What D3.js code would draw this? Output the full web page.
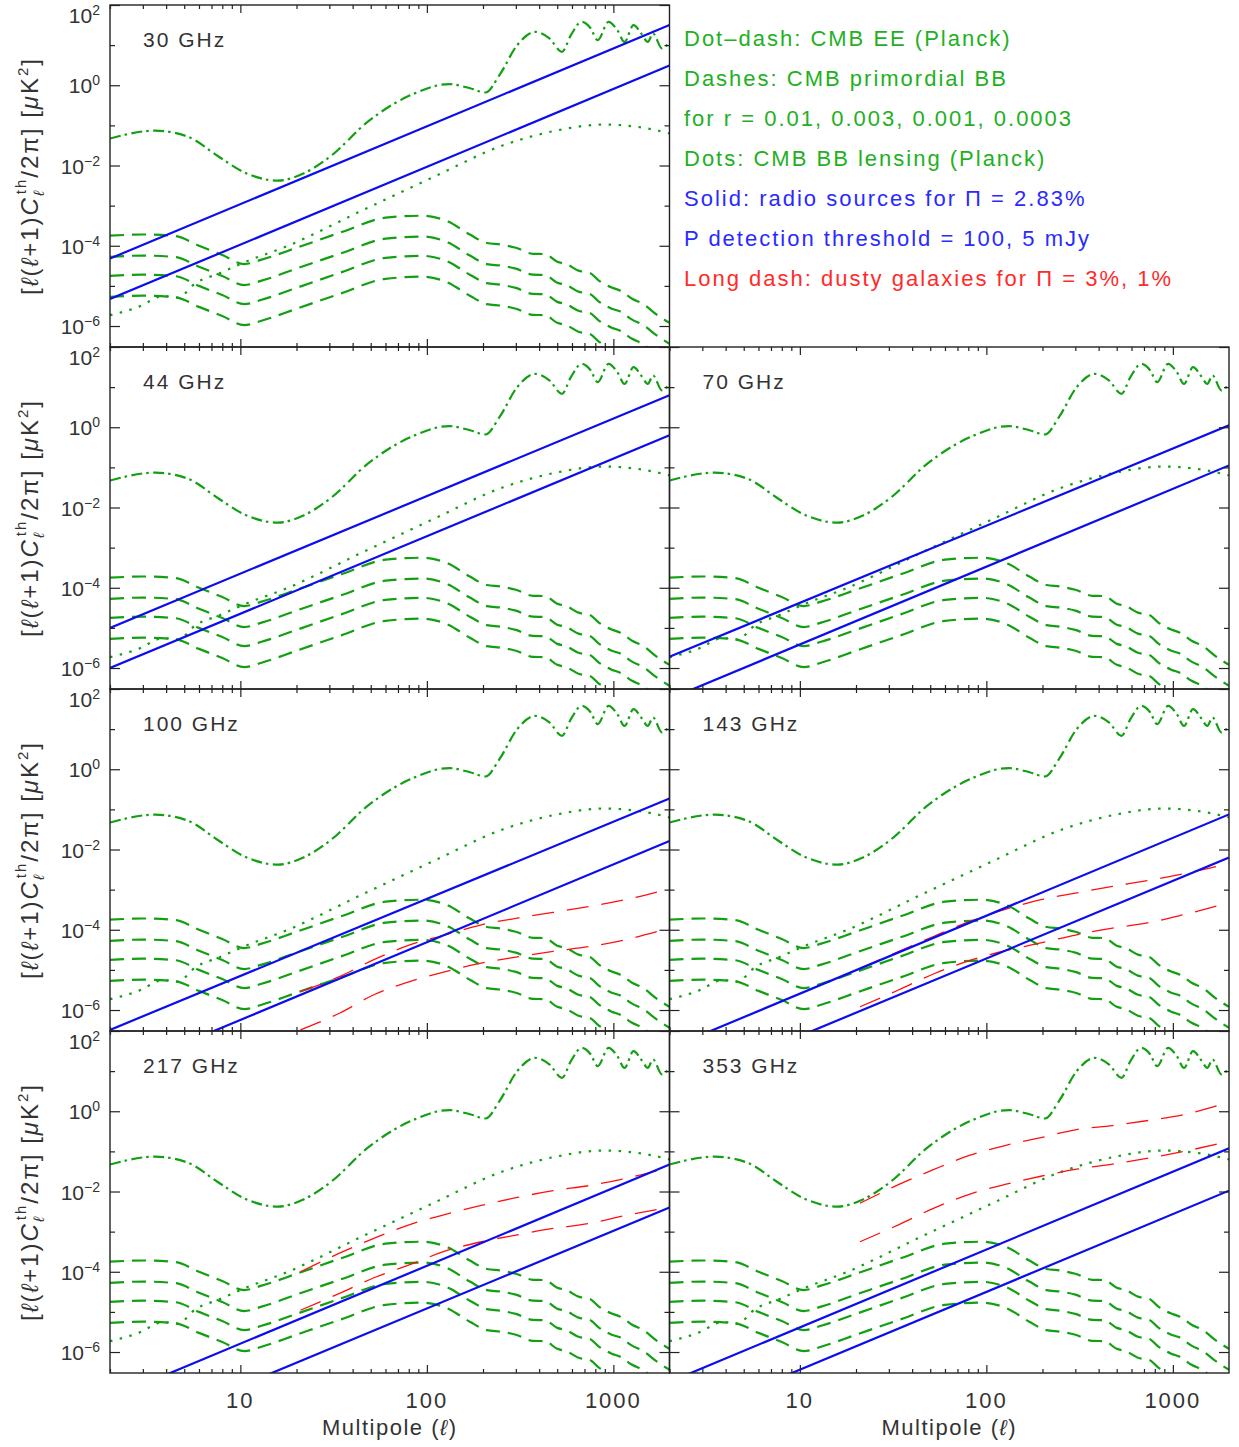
<!DOCTYPE html>
<html>
<head>
<meta charset="utf-8">
<script src="https://cdn.jsdelivr.net/npm/d3@7"></script>
<style>
body { margin: 0; background: #fff; }
text { font-family: "Liberation Sans", Arial, sans-serif; }
</style>
</head>
<body>
<div id="chart"></div>
<script>
// ---- data ----

// CMB EE (dot-dash)
const eeEll = [2, 3.5, 5.3, 7.5, 10.2, 15.9, 21.6, 30.8, 47.9, 81.3, 132, 172, 206, 245, 305, 380, 454, 530, 592, 676, 755, 824, 942, 1050, 1148, 1282, 1429, 1528, 1633, 1820, 2000];
const eeVal = [0.047, 0.074, 0.051, 0.0178, 0.0072, 0.0042, 0.0062, 0.0178, 0.12, 0.56, 1.07, 0.83, 0.66, 1.78, 10, 21.4, 14.8, 6.8, 17.8, 38, 26.3, 13.3, 38, 23.7, 12, 31.6, 17.8, 12, 19.5, 8.3, 12];

// CMB BB lensing (dots)
const lensEll = [2, 2.8, 3.9, 4.6, 5.8, 7.8, 10.4, 18, 44, 106, 257, 500, 880, 1500, 2000];
const lensVal = [1.86e-6, 2.9e-6, 5.6e-6, 5.1e-6, 1.2e-5, 2.1e-5, 3.8e-5, 1.0e-4, 7.2e-4, 4.9e-3, 3.2e-2, 7.5e-2, 0.105, 0.085, 0.063];

// CMB primordial BB (dashes) for r = 0.01, 0.003, 0.001, 0.0003
const bbEll = [2, 3, 4.5, 6, 8, 10.5, 13, 20, 35, 60, 95, 130, 170, 210, 250, 300, 370, 430, 500, 560, 650, 750, 830, 980, 1090, 1260, 1450, 1700, 2000];
const bbR0100 = [1.78e-4, 1.91e-4, 1.74e-4, 1.0e-4, 5.9e-5, 3.5e-5, 4.5e-5, 8.9e-5, 2.2e-4, 5.0e-4, 5.6e-4, 4.0e-4, 1.9e-4, 1.17e-4, 1.07e-4, 8.9e-5, 6.3e-5, 6.2e-5, 4.0e-5, 3.5e-5, 2.4e-5, 2.1e-5, 1.4e-5, 9.1e-6, 7.6e-6, 4.8e-6, 3.5e-6, 1.95e-6, 1.2e-6];
const bbR0030 = [5.3e-5, 5.7e-5, 5.2e-5, 3.0e-5, 1.77e-5, 1.05e-5, 1.35e-5, 2.7e-5, 6.6e-5, 1.5e-4, 1.7e-4, 1.2e-4, 5.7e-5, 3.5e-5, 3.2e-5, 2.7e-5, 1.9e-5, 1.86e-5, 1.2e-5, 1.05e-5, 7.2e-6, 6.3e-6, 4.2e-6, 2.7e-6, 2.3e-6, 1.44e-6, 1.05e-6, 5.9e-7, 3.6e-7];
const bbR0010 = [1.78e-5, 1.91e-5, 1.74e-5, 1.0e-5, 5.9e-6, 3.5e-6, 4.5e-6, 8.9e-6, 2.2e-5, 5.0e-5, 5.6e-5, 4.0e-5, 1.9e-5, 1.17e-5, 1.07e-5, 8.9e-6, 6.3e-6, 6.2e-6, 4.0e-6, 3.5e-6, 2.4e-6, 2.1e-6, 1.4e-6, 9.1e-7, 7.6e-7, 4.8e-7, 3.5e-7, 1.95e-7, 1.2e-7];
const bbR0003 = [5.3e-6, 5.7e-6, 5.2e-6, 3.0e-6, 1.77e-6, 1.05e-6, 1.35e-6, 2.7e-6, 6.6e-6, 1.5e-5, 1.7e-5, 1.2e-5, 5.7e-6, 3.5e-6, 3.2e-6, 2.7e-6, 1.9e-6, 1.86e-6, 1.2e-6, 1.05e-6, 7.2e-7, 6.3e-7, 4.2e-7, 2.7e-7, 2.3e-7, 1.44e-7, 1.05e-7, 5.9e-8, 3.6e-8];

// panels in reading order
const freqLabels = ["30 GHz", "44 GHz", "70 GHz", "100 GHz", "143 GHz", "217 GHz", "353 GHz"];

// radio sources (solid), value at l = 2 and l = 2000, thresholds 100 and 5 mJy
const radioEll = [2, 2000];
const radio100 = [[4.8e-5, 31.6], [1.0e-5, 6.3], [1.9e-6, 1.12], [3.2e-7, 0.186], [1.12e-7, 0.075], [7.1e-8, 0.047], [1.8e-7, 0.12]];
const radio5 = [[4.7e-6, 3.1], [1.0e-6, 0.63], [1.7e-7, 0.112], [2.5e-8, 0.0162], [1.0e-8, 0.0063], [6.3e-9, 0.004], [1.6e-8, 0.0105]];

// dusty galaxies (long dash) for Pi = 3% and 1%  (only 100-353 GHz)
const dustEll = [21, 34, 52, 81, 126, 196, 305, 475, 740, 1150, 2000];
const dust3 = [null, null, null,
  [2.9e-6, 6.8e-6, 1.8e-5, 4.2e-5, 7.5e-5, 1.33e-4, 1.95e-4, 2.7e-4, 3.8e-4, 5.6e-4, 1.05e-3],
  [1.1e-5, 2.9e-5, 6.8e-5, 1.6e-4, 3.2e-4, 5.6e-4, 8.3e-4, 1.2e-3, 1.7e-3, 2.5e-3, 4.5e-3],
  [1.0e-4, 2.9e-4, 6.8e-4, 1.5e-3, 2.7e-3, 4.5e-3, 7.1e-3, 1.05e-2, 1.4e-2, 2.1e-2, 4.0e-2],
  [5.1e-3, 1.5e-2, 3.5e-2, 7.9e-2, 0.14, 0.22, 0.35, 0.44, 0.59, 0.83, 1.7]];
const dust1 = [null, null, null,
  [3.2e-7, 8.3e-7, 2.4e-6, 5.1e-6, 9.1e-6, 1.48e-5, 2.1e-5, 2.9e-5, 3.8e-5, 5.6e-5, 1.1e-4],
  [1.2e-6, 3.2e-6, 7.9e-6, 1.7e-5, 3.0e-5, 4.7e-5, 7.5e-5, 1.1e-4, 1.5e-4, 2.4e-4, 4.7e-4],
  [1.1e-5, 2.9e-5, 7.1e-5, 1.5e-4, 3.3e-4, 5.6e-4, 8.3e-4, 1.2e-3, 1.6e-3, 2.5e-3, 4.0e-3],
  [5.6e-4, 1.5e-3, 3.8e-3, 8.5e-3, 1.5e-2, 2.4e-2, 3.6e-2, 4.8e-2, 6.8e-2, 0.1, 0.18]];

// axis ticks
const xMajor = [10, 100, 1000];
const xMinor = [2, 3, 4, 5, 6, 7, 8, 9, 20, 30, 40, 50, 60, 70, 80, 90, 200, 300, 400, 500, 600, 700, 800, 900];
const yLabelExp = [2, 0, -2, -4, -6];
const yOddExp = [1, -1, -3, -5];

const legendLines = [
  {text: "Dot\u2013dash: CMB EE (Planck)", color: "#22b022"},
  {text: "Dashes: CMB primordial BB", color: "#22b022"},
  {text: "for r = 0.01, 0.003, 0.001, 0.0003", color: "#22b022"},
  {text: "Dots: CMB BB lensing (Planck)", color: "#22b022"},
  {text: "Solid: radio sources for \u03A0 = 2.83%", color: "#2a2aff"},
  {text: "P detection threshold = 100, 5 mJy", color: "#2a2aff"},
  {text: "Long dash: dusty galaxies for \u03A0 = 3%, 1%", color: "#ff2a2a"}
];

// ---- layout ----
const width = 1239, height = 1447;
const colX = [110, 669.5], panelW = 559.5;
const rowY = [5, 347, 689, 1031], panelH = 342;
const cells = [[0, 0], [1, 0], [1, 1], [2, 0], [2, 1], [3, 0], [3, 1]]; // [row, col]

const green = "#12a012", blue = "#0c0cf0", red = "#ff1010", ink = "#333";

const svg = d3.select("#chart").append("svg")
  .attr("width", width).attr("height", height);
svg.append("rect").attr("width", width).attr("height", height).attr("fill", "#fff");

const defs = svg.append("defs");

cells.forEach(([row, col], i) => {
  const x0 = colX[col], y0 = rowY[row];
  const x1 = x0 + panelW, y1 = y0 + panelH;

  const x = d3.scaleLog().domain([2, 2000]).range([x0, x1]);
  const y = d3.scaleLog().domain([3e-7, 100]).range([y1, y0]);

  defs.append("clipPath").attr("id", "clip" + i)
    .append("rect").attr("x", x0).attr("y", y0).attr("width", panelW).attr("height", panelH);

  const g = svg.append("g").attr("clip-path", `url(#clip${i})`);

  const smooth = d3.line().x(d => x(d[0])).y(d => y(d[1])).curve(d3.curveMonotoneX);
  const straight = d3.line().x(d => x(d[0])).y(d => y(d[1]));

  // primordial BB
  [bbR0100, bbR0030, bbR0010, bbR0003].forEach(vals => {
    g.append("path").datum(d3.zip(bbEll, vals))
      .attr("d", smooth).attr("fill", "none")
      .attr("stroke", green).attr("stroke-width", 2.2).attr("stroke-dasharray", "14,8");
  });

  // lensing BB
  g.append("path").datum(d3.zip(lensEll, lensVal))
    .attr("d", smooth).attr("fill", "none")
    .attr("stroke", green).attr("stroke-width", 2.2).attr("stroke-dasharray", "2.5,7.5");

  // EE
  g.append("path").datum(d3.zip(eeEll, eeVal))
    .attr("d", smooth).attr("fill", "none")
    .attr("stroke", green).attr("stroke-width", 2.2).attr("stroke-dasharray", "11,4,2.5,4.5");

  // dusty galaxies
  if (dust3[i]) {
    [dust3[i], dust1[i]].forEach(vals => {
      g.append("path").datum(d3.zip(dustEll, vals))
        .attr("d", smooth).attr("fill", "none")
        .attr("stroke", red).attr("stroke-width", 1.3).attr("stroke-dasharray", "22,13");
    });
  }

  // radio sources
  [radio100[i], radio5[i]].forEach(vals => {
    g.append("path").datum(d3.zip(radioEll, vals))
      .attr("d", straight).attr("fill", "none")
      .attr("stroke", blue).attr("stroke-width", 2.2);
  });

  // frame
  svg.append("rect").attr("x", x0).attr("y", y0).attr("width", panelW).attr("height", panelH)
    .attr("fill", "none").attr("stroke", "#222").attr("stroke-width", 1.4);

  // ticks, all pointing into the panel
  const tickAxis = (axis, tx, ty) => {
    const a = svg.append("g").attr("transform", `translate(${tx},${ty})`).call(axis);
    a.select(".domain").remove();
    a.selectAll("line").attr("stroke", "#222").attr("stroke-width", 1.2);
    a.selectAll("text").remove();
  };
  const yLong = yLabelExp.map(e => Math.pow(10, e));
  const yShort = yOddExp.map(e => Math.pow(10, e));
  tickAxis(d3.axisLeft(y).tickValues(yLong).tickSize(-10), x0, 0);
  tickAxis(d3.axisLeft(y).tickValues(yShort).tickSize(-5), x0, 0);
  tickAxis(d3.axisRight(y).tickValues(yLong).tickSize(-10), x1, 0);
  tickAxis(d3.axisRight(y).tickValues(yShort).tickSize(-5), x1, 0);
  tickAxis(d3.axisBottom(x).tickValues(xMajor).tickSize(-8), 0, y1);
  tickAxis(d3.axisBottom(x).tickValues(xMinor).tickSize(-4), 0, y1);
  tickAxis(d3.axisTop(x).tickValues(xMajor).tickSize(-8), 0, y0);
  tickAxis(d3.axisTop(x).tickValues(xMinor).tickSize(-4), 0, y0);

  // frequency label
  svg.append("text").attr("x", x0 + 33).attr("y", y0 + 42)
    .attr("font-size", 21).attr("fill", ink).style("letter-spacing", "2px")
    .text(freqLabels[i]);

  // y tick labels on the left column
  if (col === 0) {
    yLabelExp.forEach(e => {
      const t = svg.append("text")
        .attr("x", 100).attr("y", y(Math.pow(10, e)) + 8 + (e === 2 ? 10 : 0))
        .attr("text-anchor", "end").attr("font-size", 21).attr("fill", ink);
      t.append("tspan").text("10");
      t.append("tspan").attr("font-size", 14).attr("dy", -8).text(e < 0 ? "\u2212" + (-e) : e);
    });

    const yt = svg.append("text")
      .attr("transform", `translate(38,${y0 + panelH / 2}) rotate(-90)`)
      .attr("text-anchor", "middle").attr("font-size", 24).attr("fill", ink)
      .style("letter-spacing", "2px");
    yt.append("tspan").text("[");
    yt.append("tspan").attr("font-style", "italic").text("\u2113");
    yt.append("tspan").text("(");
    yt.append("tspan").attr("font-style", "italic").text("\u2113");
    yt.append("tspan").text("+1)");
    yt.append("tspan").attr("font-style", "italic").text("C");
    yt.append("tspan").attr("font-size", 15).attr("font-style", "italic").attr("dy", 6).text("\u2113");
    yt.append("tspan").attr("font-size", 15).attr("dx", -5).attr("dy", -18).text("th");
    yt.append("tspan").attr("dy", 12).text("/2\u03C0]  [");
    yt.append("tspan").attr("font-style", "italic").text("\u03BC");
    yt.append("tspan").text("K");
    yt.append("tspan").attr("font-size", 15).attr("dy", -10).text("2");
    yt.append("tspan").attr("dy", 10).text("]");
  }

  // x tick labels on the bottom row
  if (row === 3) {
    xMajor.forEach(v => {
      svg.append("text").attr("x", x(v)).attr("y", y1 + 35)
        .attr("text-anchor", "middle").attr("font-size", 22).attr("fill", ink)
        .style("letter-spacing", "2px").text(v);
    });
    const xt = svg.append("text").attr("x", (x0 + x1) / 2).attr("y", y1 + 62)
      .attr("text-anchor", "middle").attr("font-size", 22).attr("fill", ink)
      .style("letter-spacing", "1.5px");
    xt.append("tspan").text("Multipole (");
    xt.append("tspan").attr("font-style", "italic").text("\u2113");
    xt.append("tspan").text(")");
  }
});

// legend in the empty top-right cell
legendLines.forEach((l, k) => {
  svg.append("text").attr("x", 684).attr("y", 46 + 40 * k)
    .attr("font-size", 22).attr("fill", l.color).style("letter-spacing", "2px")
    .text(l.text);
});
</script>
</body>
</html>
